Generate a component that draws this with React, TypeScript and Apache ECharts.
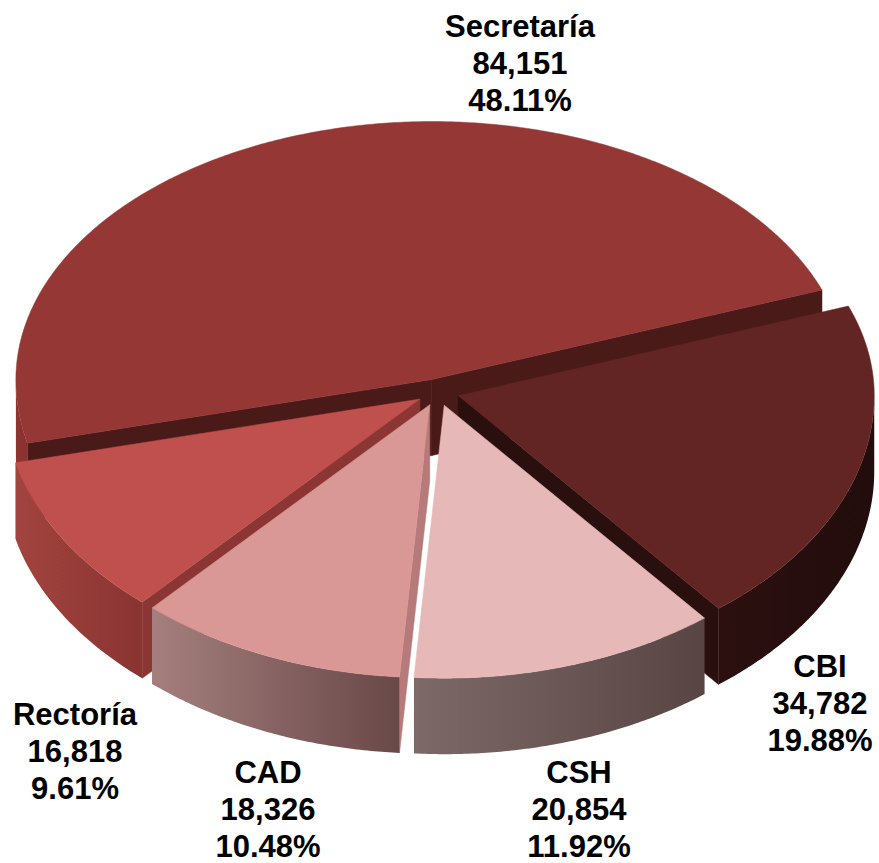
import React, { useEffect, useRef } from 'react';
import * as echarts from 'echarts';

const categories = ['Secretaría', 'CBI', 'CSH', 'CAD', 'Rectoría'];
const values = [84151, 34782, 20854, 18326, 16818];

const topColors = ['#953735', '#632523', '#e6b9b8', '#d99795', '#c0504d'];
const wallColors = [
  ['#8e3432', '#8a3230'],
  ['#2c1010', '#220c0c'],
  ['#7d6967', '#584543'],
  ['#a47f7d', '#694848'],
  ['#a2443f', '#893432'],
];
const faceColors = ['#4a1a19', '#2a0f0f', '#c9a2a1', '#b57a79', '#8b3634'];
const labelPos = [
  [520, 63],
  [820, 703],
  [579, 809],
  [268, 809],
  [75, 751],
];

const CX = 438;
const CY = 392;
const RX = 416;
const RY_BACK = 258;
const RY_FRONT = 273;
const DEPTH = 76;
const EXPLODE = 21;
const START = 193.5;

const rad = (d: number) => (d * Math.PI) / 180;

function proj(ax: number, ay: number, deg: number, r: number): [number, number] {
  const c = Math.cos(rad(deg));
  const s = Math.sin(rad(deg));
  const ry = s > 0 ? RY_BACK : RY_FRONT;
  return [ax + RX * r * c, ay - ry * r * s];
}

function arc(ax: number, ay: number, from: number, to: number): [number, number][] {
  const pts: [number, number][] = [];
  const n = Math.max(2, Math.ceil(Math.abs(to - from) / 0.5));
  for (let i = 0; i <= n; i++) {
    const a = from + ((to - from) * i) / n;
    pts.push(proj(ax, ay, a, 1));
  }
  return pts;
}

export default function App() {
  const ref = useRef<HTMLDivElement>(null);
  useEffect(() => {
    if (!ref.current) return;
    const chart = echarts.init(ref.current, undefined, { renderer: 'svg' });
    const total = values.reduce((a, b) => a + b, 0);
    let cum = 0;
    const slices = values.map((v) => {
      const hi = START - (cum / total) * 360;
      cum += v;
      const lo = START - (cum / total) * 360;
      return { hi, lo };
    });

    const renderItem = (params: any, api: any) => {
      const i = params.dataIndex;
      const v = api.value(0);
      const { hi, lo } = slices[i];
      const mid = (hi + lo) / 2;
      const [ax, ay] = proj(CX, CY, mid, EXPLODE / RX);
      const base = Math.round((1 - Math.sin(rad(mid))) * 100) * 10;
      const children: any[] = [];

      // radial faces
      const faces: number[] = [];
      if (Math.cos(rad(hi)) < 0) faces.push(hi);
      if (Math.cos(rad(lo)) > 0) faces.push(lo);
      faces.forEach((a) => {
        const p = proj(ax, ay, a, 1);
        children.push({
          type: 'polygon',
          z2: base + 1,
          shape: {
            points: [
              [ax, ay],
              p,
              [p[0], p[1] + DEPTH],
              [ax, ay + DEPTH],
            ],
          },
          style: { fill: faceColors[i], stroke: faceColors[i], lineWidth: 0.5 },
        });
      });

      // outer walls (front half only)
      const ranges: [number, number][] = [];
      [[-180, 0], [180, 360]].forEach(([s, e]) => {
        const a = Math.max(lo, s);
        const b = Math.min(hi, e);
        if (b > a) ranges.push([a, b]);
      });
      ranges.forEach(([a, b]) => {
        const top = arc(ax, ay, a, b);
        const bottom = top.map(([x, y]) => [x, y + DEPTH] as [number, number]).reverse();
        const xs = top.map((p) => p[0]);
        const minX = Math.min(...xs);
        const maxX = Math.max(...xs);
        children.push({
          type: 'polygon',
          z2: base + 2,
          shape: { points: top.concat(bottom) },
          style: {
            fill: {
              type: 'linear',
              x: minX,
              y: 0,
              x2: maxX,
              y2: 0,
              global: true,
              colorStops: [
                { offset: 0, color: wallColors[i][0] },
                { offset: 1, color: wallColors[i][1] },
              ],
            },
          },
        });
      });

      // top face
      const topPts = [[ax, ay] as [number, number]].concat(arc(ax, ay, hi, lo));
      children.push({
        type: 'polygon',
        z2: base + 3,
        shape: { points: topPts },
        style: { fill: topColors[i], stroke: topColors[i], lineWidth: 0.5 },
      });

      // label
      const pct = ((v / total) * 100).toFixed(2) + '%';
      const valStr = v.toLocaleString('en-US');
      children.push({
        type: 'text',
        z2: 5000,
        style: {
          text: categories[i] + '\n' + valStr + '\n' + pct,
          x: labelPos[i][0],
          y: labelPos[i][1],
          fill: '#000000',
          fontSize: 31,
          fontWeight: 'bold',
          fontFamily: 'Arial, "Liberation Sans", sans-serif',
          align: 'center',
          verticalAlign: 'middle',
          lineHeight: 37,
        },
      });

      return { type: 'group', children };
    };

    chart.setOption({
      animation: false,
      backgroundColor: '#ffffff',
      series: [
        {
          type: 'custom',
          coordinateSystem: 'none',
          silent: true,
          renderItem,
          data: values.map((v) => [v]),
        },
      ],
    });
    return () => chart.dispose();
  }, []);
  return (
    <div
      ref={ref}
      style={{ position: 'absolute', left: 0, top: 0, width: 879, height: 863 }}
    />
  );
}
